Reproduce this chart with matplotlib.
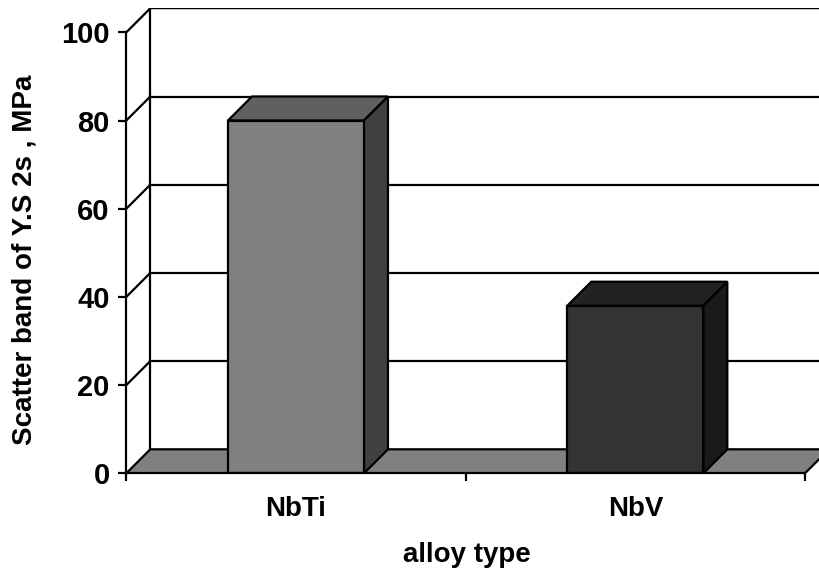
import numpy as np
import matplotlib.pyplot as plt
from matplotlib.patches import Polygon

plt.rcParams['font.family'] = ['Liberation Sans', 'DejaVu Sans']
plt.rcParams['font.weight'] = 'bold'

alloys = ["NbTi", "NbV"]
scatter_band = [80, 38]
yticks = [0, 20, 40, 60, 80, 100]

front_col = ["#808080", "#333333"]
top_col = ["#606060", "#222222"]
side_col = ["#404040", "#1a1a1a"]

W, H = 819, 569
fig = plt.figure(figsize=(W / 100, H / 100), dpi=100)

# axes box in pixels: front plane x 126..805 for 2 categories, y 0 at 473, top of back wall at 8
x0px, x2px = 126.3, 805.0
ybot, ytop = 473.3, 8.3
ppu_x = (x2px - x0px) / 2
ppu_y = (ybot - 32.3) / 100
ax = fig.add_axes([x0px / W, (H - ybot) / H, (W - x0px) / W, (ybot - ytop) / H])
ax.set_xlim(0, (W - x0px) / ppu_x)
ax.set_ylim(0, (ybot - ytop) / ppu_y)

# depth offset of the 3D box
DX = 24 / ppu_x
DY = 24 / ppu_y
ncat = len(alloys)
lw = 1.6

# back wall and left wall
ax.add_patch(Polygon([(DX, DY), (ncat + DX, DY), (ncat + DX, 100 + DY), (DX, 100 + DY)],
                     closed=True, fc="white", ec="none", zorder=1))
ax.plot([DX, DX], [DY, 100 + DY], color="black", lw=lw, zorder=2)
ax.plot([DX, ncat + DX], [100 + DY, 100 + DY], color="black", lw=lw, zorder=2)
for v in yticks[1:]:
    ax.plot([DX, ncat + DX], [v + DY, v + DY], color="black", lw=lw, zorder=2)
    ax.plot([0, DX], [v, v + DY], color="black", lw=lw, zorder=2)

# floor
ax.add_patch(Polygon([(0, 0), (ncat, 0), (ncat + DX, DY), (DX, DY)],
                     closed=True, fc="#808080", ec="black", lw=lw, zorder=3))

# bars: front face, top and right side
bw = 136 / ppu_x
for i, v in enumerate(scatter_band):
    c = i + 0.5
    l, r = c - bw / 2, c + bw / 2
    ax.add_patch(Polygon([(l, 0), (r, 0), (r, v), (l, v)], closed=True,
                         fc=front_col[i], ec="black", lw=lw, zorder=5))
    ax.add_patch(Polygon([(l, v), (r, v), (r + DX, v + DY), (l + DX, v + DY)], closed=True,
                         fc=top_col[i], ec="black", lw=lw, zorder=4))
    ax.add_patch(Polygon([(r, 0), (r + DX, DY), (r + DX, v + DY), (r, v)], closed=True,
                         fc=side_col[i], ec="black", lw=lw, zorder=4))

for s in ["top", "right"]:
    ax.spines[s].set_visible(False)
ax.spines["left"].set_bounds(0, 100)
ax.spines["bottom"].set_bounds(0, ncat)
ax.spines["left"].set_linewidth(lw)
ax.spines["bottom"].set_linewidth(lw)
ax.spines["left"].set_zorder(6)
ax.spines["bottom"].set_zorder(6)

ax.set_yticks(yticks)
ax.set_yticklabels([str(t) for t in yticks], fontsize=21, fontweight="bold")
ax.tick_params(axis="y", direction="out", length=6, width=lw, pad=6)
ax.set_xticks(np.arange(ncat + 1))
ax.set_xticklabels([])
ax.set_xticks(np.arange(ncat) + 0.5, minor=True)
ax.set_xticklabels(alloys, minor=True, fontsize=20, fontweight="bold")
ax.tick_params(axis="x", which="major", direction="out", length=6, width=lw)
ax.tick_params(axis="x", which="minor", length=0, pad=16)

fig.text(25 / W, 1 - 260 / H, "Scatter band of Y.S 2s , MPa", rotation=90,
         ha="center", va="center", fontsize=20, fontweight="bold")
fig.text(467 / W, 1 - 555 / H, "alloy type", ha="center", va="center",
         fontsize=20, fontweight="bold")

fig.savefig("out.png", dpi=100)
